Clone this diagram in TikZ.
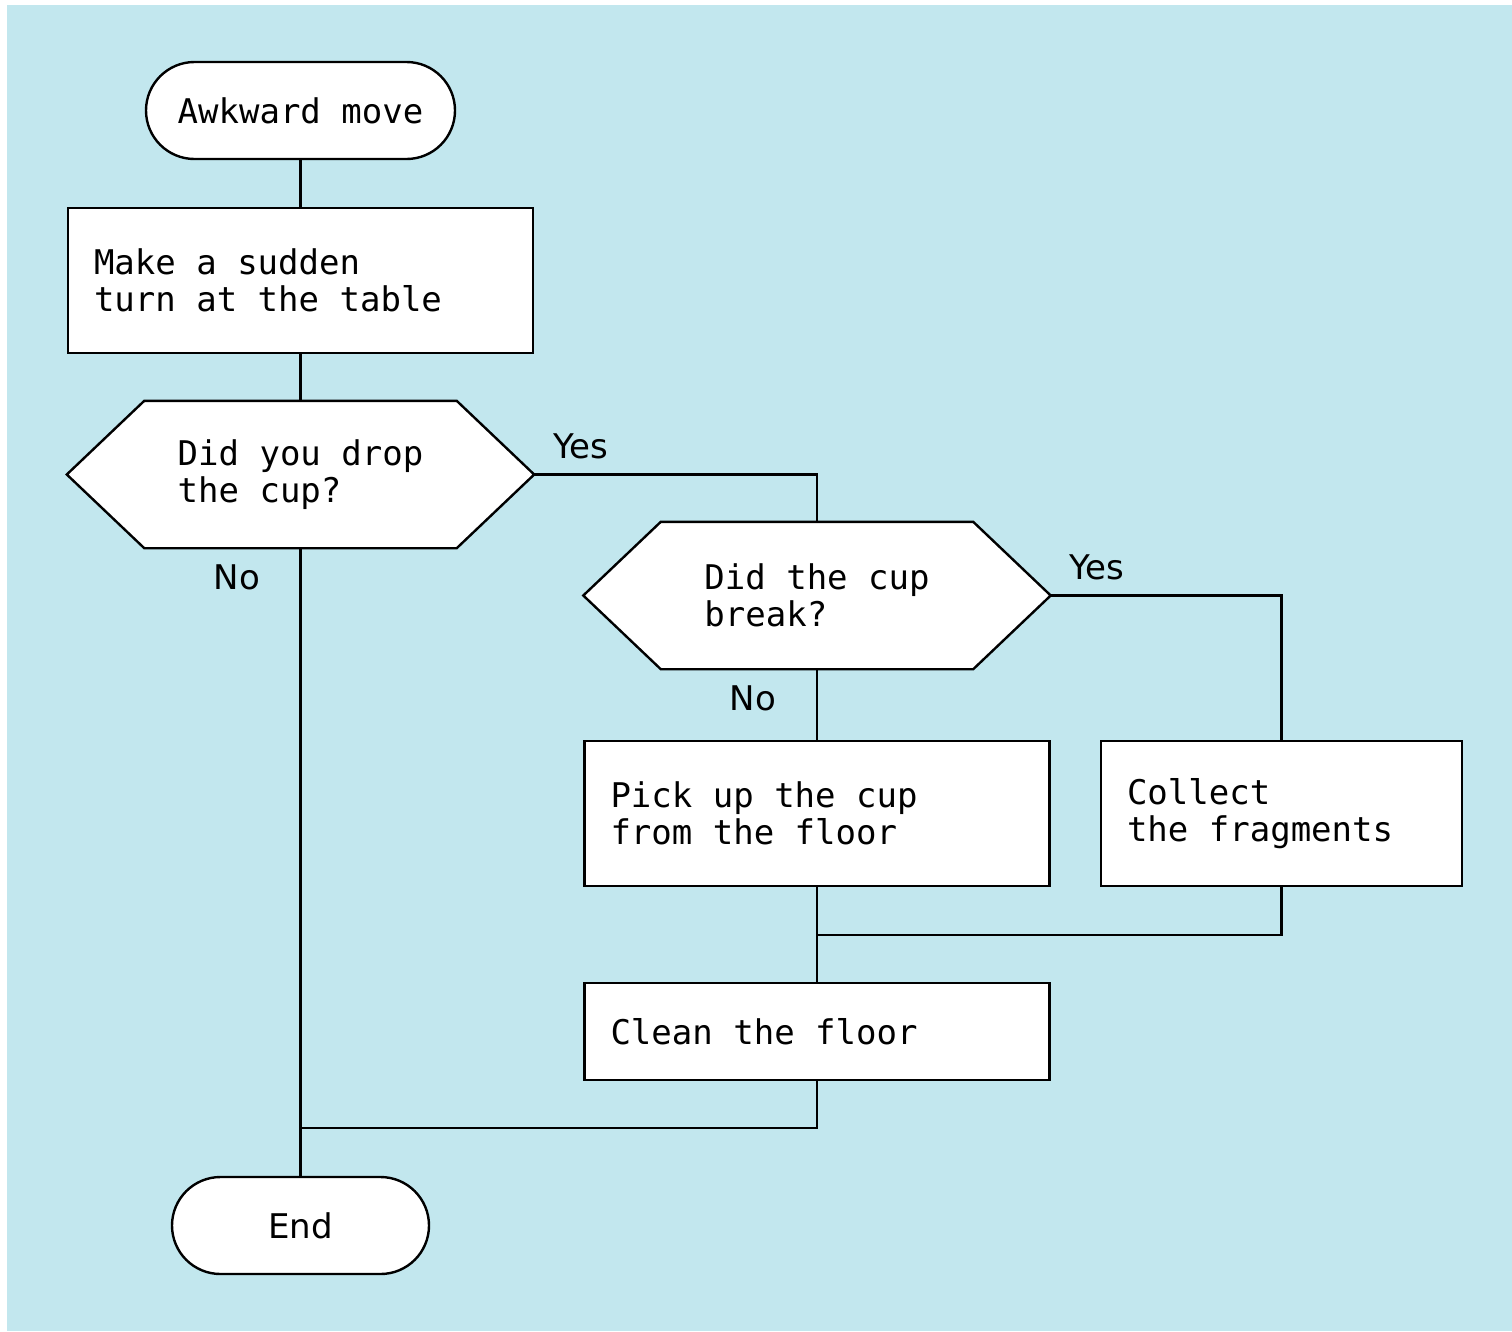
\documentclass[tikz,border=0pt]{standalone}
\usepackage{fontspec}
\setmainfont{DejaVu Sans}
\setmonofont{DejaVu Sans Mono}[WordSpace={1,0,0}]
\usetikzlibrary{shapes.misc}
\definecolor{bgblue}{HTML}{C2E7EE}
\pgfdeclarelayer{back}
\pgfdeclarelayer{mid}
\pgfsetlayers{back,mid,main}
\begin{document}
\begin{tikzpicture}[x=1pt,y=-1pt,
  mono/.style={font=\ttfamily\fontsize{34}{37}\selectfont},
  term/.style={rounded rectangle, draw, fill=white, minimum height=97pt, inner sep=0pt},
  box/.style={draw, fill=white, rectangle, inner xsep=26pt, inner ysep=0pt, align=flush left, mono},
  dec/.style={rectangle, minimum width=465pt, minimum height=145pt, inner sep=0pt, align=left, mono},
  hexa/.style={draw, fill=white, line join=miter},
  lbl/.style={font=\fontsize{34}{37}\selectfont, inner sep=0pt}]
\useasboundingbox (0,0) rectangle (1512,1331);
\begin{pgfonlayer}{back}
  \fill[bgblue] (7,5) rectangle (1512,1331);
\end{pgfonlayer}

\begin{scope}[line width=2.4pt]
\node[term, mono, minimum width=309pt] (s) at (300.5,110.5) {Awkward move};
\node[box, text width=413pt, minimum height=145pt] (b1) at (300.5,280.5) {Make a sudden\\turn at the table};
\node[dec] (d1) at (300.5,474.5) {Did you drop\\the cup?};
\node[dec] (d2) at (817,595.5) {Did the cup\\break?};
\node[box, text width=413pt, minimum height=145pt] (p) at (817,813.5) {Pick up the cup\\from the floor};
\node[box, text width=309pt, minimum height=145pt] (c) at (1281.5,813.5) {Collect\\the fragments};
\node[box, text width=413pt, minimum height=97pt] (cl) at (817,1031.5) {Clean the floor};
\node[term, font=\fontsize{34}{37}\selectfont, minimum width=257pt] (e) at (300.5,1225.5) {End};
\end{scope}

\begin{pgfonlayer}{mid}
  \foreach \n in {d1,d2}{
    \draw[hexa, line width=2.4pt] (\n.west) -- ([xshift=77.5pt]\n.north west) -- ([xshift=-77.5pt]\n.north east)
      -- (\n.east) -- ([xshift=-77.5pt]\n.south east) -- ([xshift=77.5pt]\n.south west) -- cycle;
  }
\end{pgfonlayer}

\coordinate (m1) at (817,935);
\coordinate (m2) at (300,1128);

\begin{scope}[line width=2.4pt]
\draw (s.south) -- (b1.north);
\draw (b1.south) -- (d1.north);
\draw (d1.east) -| (d2.north);
\draw (d1.south) -- (e.north);
\draw (d2.east) -| (c.north);
\draw (d2.south) -- (p.north);
\draw (p.south) -- (cl.north);
\draw (c.south) |- (m1);
\draw (cl.south) |- (m2);
\end{scope}

\node[lbl] (y1) at (581,446) {Yes};
\node[lbl] (n1) at (237,577) {No};
\node[lbl] (y2) at (1097,567) {Yes};
\node[lbl] (n2) at (753,698) {No};
\end{tikzpicture}
\end{document}
